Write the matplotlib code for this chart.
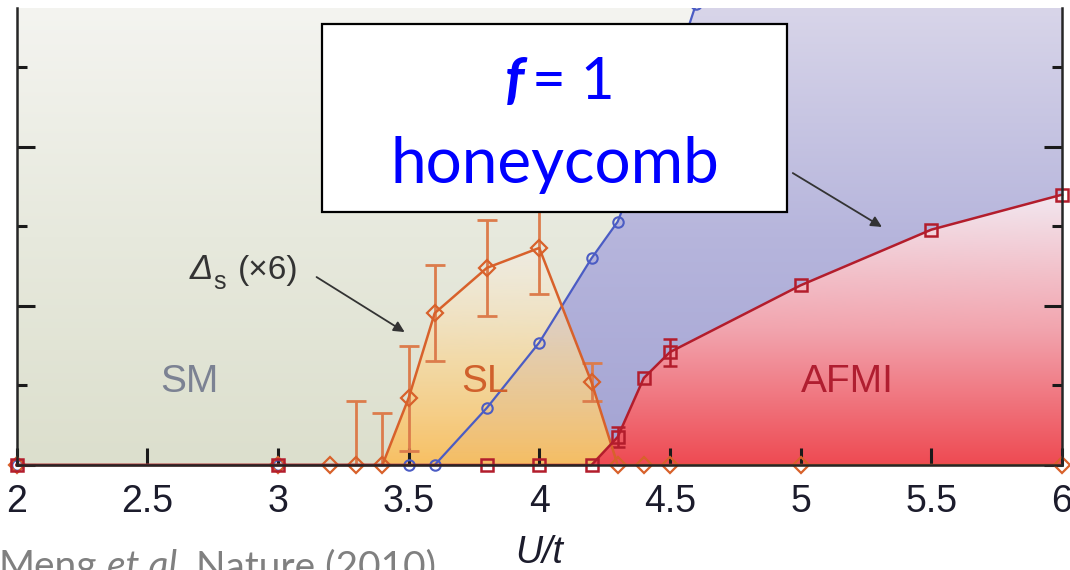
import numpy as np
import matplotlib
matplotlib.use("Agg")
import matplotlib.pyplot as plt
from matplotlib.colors import LinearSegmentedColormap, to_rgba
from matplotlib.patches import Rectangle

# Half-filled Hubbard model on the honeycomb lattice (QMC phase diagram)
# single-particle gap
u_sp = [2.0, 3.0, 3.5, 3.6, 3.8, 4.0, 4.2, 4.3, 4.4, 4.5, 4.6]
gap_sp = [0.0, 0.0, 0.0, 0.0, 0.036, 0.077, 0.130, 0.153, 0.195, 0.240, 0.290]

# spin gap (scaled by 6) with error bars
u_s = [2.0, 3.0, 3.2, 3.3, 3.4, 3.5, 3.6, 3.8, 4.0, 4.2, 4.3, 4.4, 4.5, 5.0, 6.0]
gap_s6 = [0.0, 0.0, 0.0, 0.0, 0.0, 0.042, 0.0955, 0.124, 0.1365, 0.052,
          0.0, 0.0, 0.0, 0.0, 0.0]
gap_s6_err = [0.0, 0.0, 0.0, 0.040, 0.033, 0.033, 0.030, 0.030, 0.029, 0.012,
              0.0, 0.0, 0.0, 0.0, 0.0]

# staggered magnetisation with error bars
u_ms = [2.0, 3.0, 3.8, 4.0, 4.2, 4.3, 4.4, 4.5, 5.0, 5.5, 6.0]
m_s = [0.0, 0.0, 0.0, 0.0, 0.0, 0.0176, 0.0547, 0.071, 0.113, 0.148, 0.170]
m_s_err = [0.0, 0.0, 0.0, 0.0, 0.0, 0.006, 0.0, 0.0085, 0.0, 0.0, 0.0]

x_ticks = [2, 2.5, 3, 3.5, 4, 4.5, 5, 5.5, 6]
x_tick_labels = ["2", "2.5", "3", "3.5", "4", "4.5", "5", "5.5", "6"]
y_major = [0.0, 0.1, 0.2]
y_minor = [0.05, 0.15, 0.25]

X_MIN, X_MAX = 2.0, 6.0
Y_MIN, Y_MAX = 0.0, 0.2874

C_BLUE = "#4b5cc4"
C_ORANGE = "#d8612b"
C_ORANGE_ERR = "#dc7c4c"
C_RED = "#b31d2c"

plt.rcParams["font.family"] = ["Liberation Sans", "DejaVu Sans"]

W, H = 1070, 570
fig = plt.figure(figsize=(W / 100, H / 100), dpi=100)
fig.patch.set_facecolor("white")


def fx(px):
    return px / W


def fy(py):
    return 1 - py / H


ax = fig.add_axes([fx(16.5), fy(465), (1062 - 16.5) / W, (465 - 8) / H])
ax.set_facecolor("none")


def vertical_gradient(colors, y0, y1, clip=None, zorder=0.1):
    cmap = LinearSegmentedColormap.from_list("grad", colors)
    grad = np.linspace(0, 1, 256).reshape(-1, 1)
    im = ax.imshow(grad, cmap=cmap, extent=[X_MIN, X_MAX, y0, y1],
                   origin="lower", aspect="auto", zorder=zorder,
                   interpolation="bicubic")
    if clip is not None:
        im.set_clip_path(clip, ax.transData)
    return im


# semimetal background over the whole plane
vertical_gradient(["#dcdfcd", "#e7e9dd", "#f4f4f0"], Y_MIN, Y_MAX, zorder=0.05)

# insulating region right of the single-particle gap curve
blue_poly = ax.fill(list(u_sp) + [X_MAX, X_MAX], list(gap_sp) + [gap_sp[-1], 0.0],
                    facecolor="none", edgecolor="none")[0]
vertical_gradient(["#a3a3d3", "#b6b5dc", "#d8d5e9"], Y_MIN, Y_MAX,
                  clip=blue_poly.get_path(), zorder=0.1)

# spin-liquid dome under the spin gap
sl_fill = ax.fill_between(u_s, gap_s6, 0, facecolor="none", edgecolor="none")
vertical_gradient([to_rgba("#fabf5e", 0.96), to_rgba("#f8d89c", 0.75),
                   to_rgba("#f8f0e8", 0.45)],
                  Y_MIN, max(gap_s6), clip=sl_fill.get_paths()[0], zorder=0.2)

# antiferromagnetic Mott insulator under the magnetisation
af_fill = ax.fill_between(u_ms, m_s, 0, facecolor="none", edgecolor="none")
vertical_gradient(["#ee4a52", "#f2a4ae", "#f2e8f0"], Y_MIN, max(m_s),
                  clip=af_fill.get_paths()[0], zorder=0.3)

# data curves: clipped at the top of the frame, markers may hang below the axis
clip_box = Rectangle((-0.02, -0.06), 1.04, 1.06, transform=ax.transAxes,
                     facecolor="none", edgecolor="none")
ax.add_patch(clip_box)

u_s_a, g_a, e_a = np.array(u_s), np.array(gap_s6), np.array(gap_s6_err)
m_a, u_m_a, me_a = np.array(m_s), np.array(u_ms), np.array(m_s_err)

ax.errorbar(u_s_a[e_a > 0], g_a[e_a > 0], yerr=e_a[e_a > 0], fmt="none",
            ecolor=C_ORANGE_ERR, elinewidth=2.0, capsize=7, capthick=2.0,
            zorder=2)
ax.errorbar(u_m_a[me_a > 0], m_a[me_a > 0], yerr=me_a[me_a > 0], fmt="none",
            ecolor=C_RED, elinewidth=1.8, capsize=5, capthick=1.8, zorder=2)

l1, = ax.plot(u_sp, gap_sp, color=C_BLUE, lw=1.6, marker="o", ms=7.5,
              mfc="none", mec=C_BLUE, mew=1.5, zorder=2.2)
l2, = ax.plot(u_s, gap_s6, color=C_ORANGE, lw=1.8, marker="D", ms=8,
              mfc="none", mec=C_ORANGE, mew=1.6, zorder=2.3)
l3, = ax.plot(u_ms, m_s, color=C_RED, lw=1.8, marker="s", ms=8.5,
              mfc="none", mec=C_RED, mew=1.8, zorder=2.4)
for ln in (l1, l2, l3):
    ln.set_clip_box(None)
    ln.set_clip_path(clip_box)

# axes styling
ax.set_xlim(X_MIN, X_MAX)
ax.set_ylim(Y_MIN, Y_MAX)
ax.set_xticks(x_ticks)
ax.set_xticklabels(x_tick_labels)
ax.set_yticks(y_major)
ax.set_yticks(y_minor, minor=True)
ax.tick_params(axis="x", direction="in", length=12, width=2.2, pad=14,
               labelsize=27, color="#1a1a1a", labelcolor="#1c1c2c")
ax.tick_params(axis="y", which="major", direction="in", length=13, width=2.2,
               left=True, right=True, labelleft=False, color="#1a1a1a")
ax.tick_params(axis="y", which="minor", direction="in", length=7, width=2.2,
               left=True, right=True, labelleft=False, color="#1a1a1a")
ax.spines["top"].set_visible(False)
for side in ("left", "right", "bottom"):
    ax.spines[side].set_linewidth(1.8)
    ax.spines[side].set_color("#262626")
    ax.spines[side].set_zorder(2.6)

ax.set_xlabel("U/t", style="italic", fontsize=27, color="#1c1c2c")
ax.xaxis.set_label_coords(0.5, -(535 - 465) / (465 - 8))

# phase labels
ax.text(2.662, 0.0459, "SM", ha="center", va="baseline", fontsize=28,
        color="#7c8293", zorder=3)
ax.text(3.791, 0.0459, "SL", ha="center", va="baseline", fontsize=28,
        color="#d0602c", zorder=3)
ax.text(5.177, 0.0459, "AFMI", ha="center", va="baseline", fontsize=28,
        color="#b01e30", zorder=3)

# spin-gap annotation
t_delta = ax.text(2.662, 0.117, "Δ", style="italic", fontsize=25,
                  ha="left", va="baseline", color="#333333", zorder=3)
ax.annotate("s", xy=(1, 0), xycoords=t_delta, xytext=(0, -6),
            textcoords="offset points", fontsize=18, ha="left", va="bottom",
            color="#333333", zorder=3)
ax.annotate("(×6)", xy=(1, 0), xycoords=t_delta, xytext=(18, 0),
            textcoords="offset points", fontsize=24, ha="left", va="bottom",
            color="#333333", zorder=3)
ax.annotate("", xy=(3.485, 0.0836), xytext=(3.148, 0.1182),
            arrowprops=dict(arrowstyle="-|>", color="#333333", lw=1.3,
                            mutation_scale=16, shrinkA=0, shrinkB=0),
            zorder=3)
ax.annotate("", xy=(5.311, 0.1497), xytext=(4.970, 0.1836),
            arrowprops=dict(arrowstyle="-|>", color="#333333", lw=1.3,
                            mutation_scale=16, shrinkA=0, shrinkB=0),
            zorder=3)

# title box
fig.add_artist(Rectangle((fx(322), fy(212)), (787 - 322) / W, (212 - 24) / H,
                         transform=fig.transFigure, facecolor="white",
                         edgecolor="black", lw=1.6, zorder=5))
fig.text(fx(524), fy(99), "f", ha="right", va="baseline", fontsize=42,
         family="Lato", weight="bold", style="italic", color="#0000ff",
         zorder=6)
fig.text(fx(532), fy(99), "= 1", ha="left", va="baseline", fontsize=42,
         family="Lato", color="#0000ff", zorder=6)
fig.text(fx(554.5), fy(183), "honeycomb", ha="center", va="baseline",
         fontsize=46, family="Lato", color="#0000ff", zorder=6)

# citation line
c1 = fig.text(fx(-1), fy(578), "Meng", ha="left", va="baseline", fontsize=28,
              family="Lato", color="#808080")
c2 = ax.annotate("et al.", xy=(1, 0), xycoords=c1, xytext=(7, 0),
                 textcoords="offset points", ha="left", va="bottom",
                 fontsize=28, family="Lato", style="italic", color="#808080",
                 annotation_clip=False)
ax.annotate("Nature (2010)", xy=(1, 0), xycoords=c2, xytext=(7, 0),
            textcoords="offset points", ha="left", va="bottom", fontsize=28,
            family="Lato", color="#808080", annotation_clip=False)

fig.savefig("out.png", dpi=100)
